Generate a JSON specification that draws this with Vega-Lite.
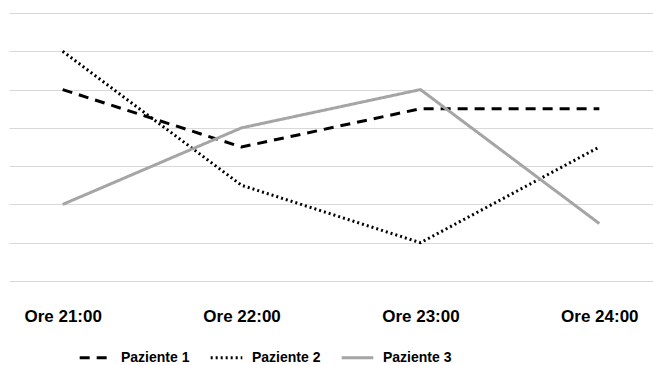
{
  "$schema": "https://vega.github.io/schema/vega-lite/v6.json",
  "width": 644,
  "height": 268,
  "autosize": {"type": "none"},
  "padding": {"left": 9, "top": 13, "right": 0, "bottom": 84},
  "background": "white",
  "config": {
    "view": {"stroke": null},
    "font": "Liberation Sans"
  },
  "data": {
    "values": [
      {"ora": "Ore 21:00", "paziente": "Paziente 1", "valore": 5},
      {"ora": "Ore 22:00", "paziente": "Paziente 1", "valore": 3.5},
      {"ora": "Ore 23:00", "paziente": "Paziente 1", "valore": 4.5},
      {"ora": "Ore 24:00", "paziente": "Paziente 1", "valore": 4.5},
      {"ora": "Ore 21:00", "paziente": "Paziente 2", "valore": 6},
      {"ora": "Ore 22:00", "paziente": "Paziente 2", "valore": 2.5},
      {"ora": "Ore 23:00", "paziente": "Paziente 2", "valore": 1},
      {"ora": "Ore 24:00", "paziente": "Paziente 2", "valore": 3.5},
      {"ora": "Ore 21:00", "paziente": "Paziente 3", "valore": 2},
      {"ora": "Ore 22:00", "paziente": "Paziente 3", "valore": 4},
      {"ora": "Ore 23:00", "paziente": "Paziente 3", "valore": 5},
      {"ora": "Ore 24:00", "paziente": "Paziente 3", "valore": 1.5}
    ]
  },
  "mark": {"type": "line", "strokeWidth": 3},
  "encoding": {
    "x": {
      "field": "ora",
      "type": "ordinal",
      "sort": ["Ore 21:00", "Ore 22:00", "Ore 23:00", "Ore 24:00"],
      "scale": {"type": "point", "padding": 0.3},
      "axis": {
        "title": null,
        "labelAngle": 0,
        "domain": false,
        "ticks": false,
        "grid": false,
        "labelFontSize": 17,
        "labelFontWeight": "bold",
        "labelColor": "#000000",
        "labelPadding": 27
      }
    },
    "y": {
      "field": "valore",
      "type": "quantitative",
      "scale": {"domain": [0, 7]},
      "axis": {
        "title": null,
        "labels": false,
        "ticks": false,
        "domain": false,
        "values": [0, 1, 2, 3, 4, 5, 6, 7],
        "gridColor": "#d9d9d9",
        "gridWidth": 1.2
      }
    },
    "color": {
      "field": "paziente",
      "type": "nominal",
      "scale": {"domain": ["Paziente 1", "Paziente 2", "Paziente 3"], "range": ["#000000", "#000000", "#a5a5a5"]},
      "legend": {
        "orient": "none",
        "legendX": 69,
        "legendY": 327,
        "direction": "horizontal",
        "title": null,
        "symbolType": "stroke",
        "symbolSize": 1000,
        "symbolStrokeWidth": 3,
        "labelFontSize": 14,
        "labelFontWeight": "bold",
        "labelColor": "#000000",
        "labelOffset": 8,
        "columnPadding": 14
      }
    },
    "strokeDash": {
      "field": "paziente",
      "type": "nominal",
      "scale": {"domain": ["Paziente 1", "Paziente 2", "Paziente 3"], "range": [[10, 7], [2, 3], [1, 0]]},
      "legend": {
        "orient": "none",
        "legendX": 69,
        "legendY": 327,
        "direction": "horizontal",
        "title": null,
        "symbolType": "stroke",
        "symbolSize": 1000,
        "symbolStrokeWidth": 3,
        "labelFontSize": 14,
        "labelFontWeight": "bold",
        "labelColor": "#000000",
        "labelOffset": 8,
        "columnPadding": 14
      }
    }
  }
}
